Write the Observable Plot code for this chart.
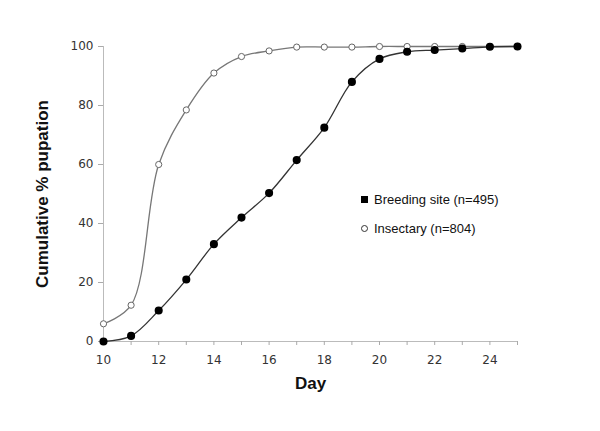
<!DOCTYPE html>
<html>
<head>
<meta charset="utf-8">
<script src="https://cdn.jsdelivr.net/npm/d3@7"></script>
<script src="https://cdn.jsdelivr.net/npm/@observablehq/plot@0.6"></script>
<style>
  html, body { margin: 0; padding: 0; background: #fff; }
  #wrap { position: relative; width: 600px; height: 431px; }
  #legend { position: absolute; left: 361px; top: 185px; font-family: "Liberation Sans", Arial, sans-serif; font-size: 13px; color: #111; line-height: 29px; }
  #legend .sw { display: inline-block; width: 7px; height: 7px; margin-right: 6px; vertical-align: 1px; box-sizing: border-box; }
</style>
</head>
<body>
<div id="wrap"><div id="chart"></div><div id="legend"></div></div>
<script>
const days = [10, 11, 12, 13, 14, 15, 16, 17, 18, 19, 20, 21, 22, 23, 24, 25];
const breeding = [0, 1.9, 10.5, 21, 33, 42, 50.3, 61.5, 72.5, 88, 95.8, 98.2, 98.8, 99.3, 99.9, 100];
const insectary = [6, 12.3, 60, 78.5, 91, 96.6, 98.5, 99.8, 99.8, 99.8, 100, 100, 100, 100, 100, 100];
const seriesNames = ["Breeding site (n=495)", "Insectary (n=804)"];
const xTicks = d3.range(10, 26);
const xLabels = [10, 12, 14, 16, 18, 20, 22, 24];
const yTicks = [0, 20, 40, 60, 80, 100];

const bData = days.map((d, i) => ({day: d, v: breeding[i]}));
const iData = days.map((d, i) => ({day: d, v: insectary[i]}));

const chart = Plot.plot({
  width: 600,
  height: 431,
  marginLeft: 103,
  marginRight: 83,
  marginTop: 46,
  marginBottom: 90,
  style: {fontFamily: "'DejaVu Sans', Arial, sans-serif", background: "#fff"},
  x: {domain: [10, 25]},
  y: {domain: [0, 100]},
  marks: [
    Plot.ruleY([0], {stroke: "#bbb"}),
    Plot.ruleX([10], {stroke: "#bbb"}),
    Plot.axisX(xTicks, {tickSize: 4, tickFormat: () => "", stroke: "#aaa", label: null}),
    Plot.axisX(xLabels, {tickSize: 0, tickPadding: 14, fontSize: 12, fill: "#333", label: null}),
    Plot.axisY(yTicks, {tickSize: 5, tickPadding: 5, fontSize: 12, fill: "#333", stroke: "#aaa", label: null}),
    Plot.text(["Day"], {frameAnchor: "bottom", dy: 47, fontSize: 17, fontWeight: "bold", fill: "#111", fontFamily: "'Liberation Sans', Arial, sans-serif"}),
    Plot.text(["Cumulative % pupation"], {frameAnchor: "left", textAnchor: "middle", dx: -61, rotate: -90, fontSize: 17, fontWeight: "bold", fill: "#111", fontFamily: "'Liberation Sans', Arial, sans-serif"}),
    Plot.line(iData, {x: "day", y: "v", curve: "catmull-rom", stroke: "#777", strokeWidth: 1.3}),
    Plot.line(bData, {x: "day", y: "v", curve: "catmull-rom", stroke: "#333", strokeWidth: 1.3}),
    Plot.dot(iData, {x: "day", y: "v", r: 3.1, fill: "#fff", stroke: "#666", strokeWidth: 1}),
    Plot.dot(bData, {x: "day", y: "v", r: 3.3, fill: "#000", stroke: "#000"})
  ]
});
document.getElementById("chart").appendChild(chart);

const legend = document.getElementById("legend");
legend.innerHTML =
  `<div><span class="sw" style="background:#000"></span>${seriesNames[0]}</div>` +
  `<div><span class="sw" style="border:1.3px solid #333;border-radius:50%;background:#fff"></span>${seriesNames[1]}</div>`;
</script>
</body>
</html>
